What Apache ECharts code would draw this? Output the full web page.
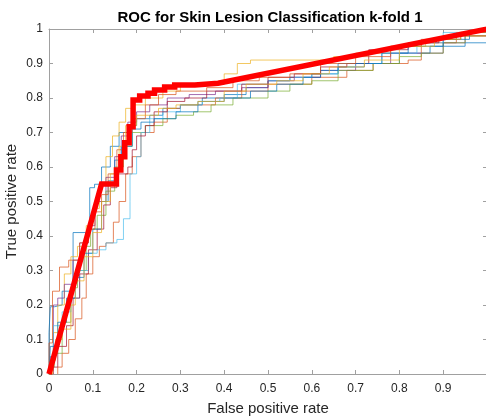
<!DOCTYPE html>
<html>
<head>
<meta charset="utf-8">
<script src="https://cdn.jsdelivr.net/npm/echarts@6/dist/echarts.min.js"></script>
<style>html,body{margin:0;padding:0;background:#fff;}#c{width:486px;height:418px;}</style>
</head>
<body>
<div id="c"></div>
<script>
const titleText = 'ROC for Skin Lesion Classification k-fold 1';
const xName = 'False positive rate';
const yName = 'True positive rate';
const xTickLabels = ['0','0.1','0.2','0.3','0.4','0.5','0.6','0.7','0.8','0.9',''];
const yTickLabels = ['0','0.1','0.2','0.3','0.4','0.5','0.6','0.7','0.8','0.9','1'];

const fold1 = [[0,0],[0,0.12],[0.003,0.195],[0.013,0.2],[0.03,0.24],[0.055,0.41],[0.093,0.54],[0.104,0.55],[0.12,0.6],[0.14,0.66],[0.16,0.7],[0.18,0.72],[0.2,0.74],[0.23,0.75],[0.26,0.77],[0.3,0.78],[0.35,0.8],[0.4,0.81],[0.45,0.83],[0.5,0.85],[0.55,0.86],[0.6,0.87],[0.66,0.89],[0.72,0.9],[0.8,0.93],[0.87,0.95],[0.95,0.96],[1,1]];
const fold2 = [[0.02,0],[0.02,0.02],[0.03,0.06],[0.045,0.1],[0.06,0.16],[0.075,0.22],[0.085,0.29],[0.1,0.34],[0.115,0.37],[0.13,0.38],[0.147,0.39],[0.147,0.44],[0.16,0.5],[0.175,0.58],[0.19,0.63],[0.21,0.7],[0.24,0.73],[0.27,0.77],[0.3,0.78],[0.38,0.8],[0.44,0.82],[0.5,0.84],[0.6,0.86],[0.68,0.88],[0.74,0.9],[0.82,0.91],[0.85,0.96],[0.93,0.98],[1,1]];
const fold3 = [[0,0],[0.005,0.01],[0.01,0.12],[0.02,0.2],[0.035,0.29],[0.05,0.34],[0.065,0.37],[0.085,0.43],[0.1,0.48],[0.115,0.55],[0.13,0.63],[0.145,0.69],[0.16,0.73],[0.175,0.77],[0.19,0.78],[0.22,0.8],[0.26,0.82],[0.3,0.84],[0.36,0.84],[0.4,0.87],[0.43,0.9],[0.46,0.91],[0.65,0.92],[0.7,0.93],[0.78,0.95],[0.86,0.97],[0.93,0.99],[1,1]];
const fold4 = [[0,0],[0.003,0.05],[0.01,0.2],[0.02,0.22],[0.035,0.26],[0.055,0.33],[0.07,0.38],[0.09,0.43],[0.105,0.5],[0.13,0.57],[0.15,0.63],[0.165,0.69],[0.18,0.73],[0.2,0.76],[0.23,0.78],[0.27,0.8],[0.32,0.81],[0.38,0.82],[0.44,0.83],[0.5,0.85],[0.56,0.86],[0.62,0.88],[0.7,0.9],[0.78,0.93],[0.9,0.96],[0.95,0.99],[1,1]];
const fold5 = [[0,0],[0.005,0.02],[0.012,0.06],[0.03,0.15],[0.05,0.25],[0.065,0.3],[0.085,0.37],[0.095,0.42],[0.11,0.46],[0.13,0.53],[0.15,0.6],[0.17,0.66],[0.19,0.7],[0.22,0.72],[0.26,0.74],[0.29,0.75],[0.33,0.76],[0.37,0.78],[0.42,0.8],[0.5,0.82],[0.55,0.84],[0.6,0.85],[0.66,0.88],[0.74,0.9],[0.8,0.92],[0.85,0.93],[0.9,0.96],[0.95,0.98],[1,1]];
const fold6 = [[0,0],[0.002,0.05],[0.01,0.14],[0.03,0.18],[0.05,0.22],[0.07,0.3],[0.09,0.35],[0.11,0.36],[0.13,0.38],[0.155,0.39],[0.17,0.45],[0.185,0.5],[0.185,0.58],[0.2,0.63],[0.21,0.7],[0.23,0.74],[0.26,0.76],[0.3,0.78],[0.35,0.79],[0.39,0.8],[0.43,0.84],[0.5,0.85],[0.55,0.86],[0.6,0.87],[0.66,0.89],[0.7,0.9],[0.76,0.93],[0.84,0.96],[0.9,0.99],[1,1]];
const fold7 = [[0,0],[0.01,0.02],[0.02,0.08],[0.04,0.14],[0.055,0.22],[0.07,0.29],[0.09,0.36],[0.11,0.42],[0.125,0.49],[0.14,0.54],[0.155,0.58],[0.18,0.6],[0.19,0.65],[0.2,0.69],[0.22,0.72],[0.24,0.76],[0.27,0.79],[0.31,0.8],[0.36,0.82],[0.44,0.84],[0.5,0.86],[0.56,0.87],[0.62,0.89],[0.68,0.9],[0.73,0.94],[0.82,0.96],[0.89,0.97],[0.94,0.99],[1,1]];
const fold8 = [[0,0],[0.003,0.08],[0.02,0.15],[0.04,0.22],[0.06,0.28],[0.08,0.35],[0.1,0.42],[0.12,0.5],[0.135,0.56],[0.15,0.62],[0.165,0.66],[0.19,0.71],[0.21,0.73],[0.24,0.74],[0.29,0.76],[0.34,0.79],[0.4,0.8],[0.46,0.82],[0.52,0.84],[0.58,0.86],[0.62,0.88],[0.66,0.9],[0.76,0.93],[0.82,0.95],[0.9,0.97],[0.96,0.99],[1,1]];
const fold9 = [[0,0],[0,0.09],[0.008,0.24],[0.024,0.31],[0.045,0.33],[0.07,0.38],[0.09,0.42],[0.105,0.47],[0.12,0.52],[0.135,0.58],[0.155,0.65],[0.17,0.7],[0.19,0.74],[0.22,0.78],[0.25,0.81],[0.29,0.82],[0.36,0.83],[0.42,0.85],[0.48,0.86],[0.55,0.87],[0.62,0.9],[0.7,0.92],[0.78,0.95],[0.85,0.97],[0.92,0.98],[1,1]];
const fold10 = [[0,0],[0.008,0.04],[0.015,0.1],[0.03,0.13],[0.05,0.2],[0.06,0.27],[0.08,0.34],[0.1,0.41],[0.12,0.5],[0.14,0.58],[0.16,0.66],[0.175,0.72],[0.2,0.75],[0.25,0.77],[0.29,0.78],[0.34,0.79],[0.4,0.82],[0.45,0.84],[0.52,0.85],[0.58,0.87],[0.64,0.89],[0.72,0.91],[0.8,0.95],[0.88,0.97],[0.94,0.99],[1,1]];
const meanRoc = [[0,0],[0.12,0.551],[0.154,0.551],[0.154,0.591],[0.164,0.591],[0.164,0.63],[0.173,0.63],[0.173,0.67],[0.183,0.67],[0.183,0.717],[0.192,0.717],[0.192,0.794],[0.207,0.794],[0.207,0.806],[0.226,0.806],[0.226,0.814],[0.241,0.814],[0.241,0.823],[0.264,0.823],[0.264,0.832],[0.287,0.832],[0.287,0.838],[0.333,0.838],[0.333,0.843],[0.386,0.843],[1,1]];

const folds = [fold1,fold2,fold3,fold4,fold5,fold6,fold7,fold8,fold9,fold10];
const foldColors = ['#0072BD','#D95319','#EDB120','#7E2F8E','#77AC30','#4DBEEE','#A2142F','#0072BD','#D95319','#EDB120'];

const series = folds.map((d,i)=>({
  type:'line', data:d, step:'end', symbol:'none', silent:true,
  lineStyle:{width:1, color:foldColors[i], opacity:0.7}
}));
series.push({type:'line', data:meanRoc, symbol:'none', silent:true, z:5,
  lineStyle:{width:5.5, color:'#FF0000', join:'miter'}});

const axisCol = '#a0a0a0';
const chart = echarts.init(document.getElementById('c'));
chart.setOption({
  animation:false,
  backgroundColor:'#fff',
  title:{text:titleText, left:265, top:5, textAlign:'center',
    textStyle:{fontFamily:'Liberation Sans', fontWeight:'bold', fontSize:15, color:'#000'}},
  grid:{left:49, top:29, width:438, height:345, outerBoundsMode:'none', containLabel:false},
  xAxis:[{type:'value', min:0, max:1, interval:0.1,
    name:xName, nameLocation:'middle', nameGap:27, nameMoveOverlap:false,
    nameTextStyle:{fontFamily:'Liberation Sans', fontSize:15, color:'#262626'},
    axisLine:{show:true, onZero:false, lineStyle:{color:axisCol}},
    axisTick:{show:true, inside:true, length:4, lineStyle:{color:axisCol}},
    axisLabel:{fontFamily:'Liberation Sans', fontSize:12, color:'#262626', margin:9,
      formatter:(v)=>xTickLabels[Math.round(v*10)]},
    splitLine:{show:false}},
   {type:'value', min:0, max:1, interval:0.1, position:'top',
    axisLine:{show:true, onZero:false, lineStyle:{color:axisCol}},
    axisTick:{show:true, inside:true, length:4, lineStyle:{color:axisCol}},
    axisLabel:{show:false}, splitLine:{show:false}}],
  yAxis:[{type:'value', min:0, max:1, interval:0.1,
    name:yName, nameLocation:'middle', nameGap:30, nameMoveOverlap:false,
    nameTextStyle:{fontFamily:'Liberation Sans', fontSize:15, color:'#262626'},
    axisLine:{show:true, onZero:false, lineStyle:{color:axisCol}},
    axisTick:{show:true, inside:true, length:4, lineStyle:{color:axisCol}},
    axisLabel:{fontFamily:'Liberation Sans', fontSize:12, color:'#262626', margin:6,
      formatter:(v)=>yTickLabels[Math.round(v*10)]},
    splitLine:{show:false}},
   {type:'value', min:0, max:1, interval:0.1, position:'right',
    axisLine:{show:true, onZero:false, lineStyle:{color:axisCol}},
    axisTick:{show:true, inside:true, length:4, lineStyle:{color:axisCol}},
    axisLabel:{show:false}, splitLine:{show:false}}],
  series:series
});
</script>
</body>
</html>
